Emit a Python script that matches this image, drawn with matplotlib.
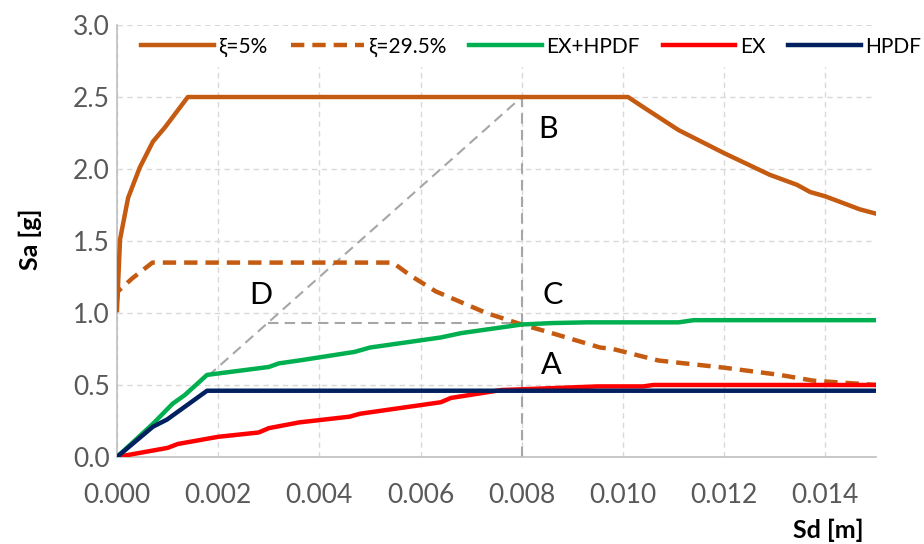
import matplotlib.pyplot as plt

plt.rcParams['font.family'] = ['Lato', 'DejaVu Sans']

# xi = 5% spectrum
sd_5 = [0.0, 0.00006, 0.00022, 0.00045, 0.00071, 0.00095, 0.0014, 0.0101,
        0.0104, 0.0111, 0.0120, 0.0129, 0.01344, 0.0137, 0.0140, 0.01468, 0.0150]
sa_5 = [1.02, 1.51, 1.80, 2.01, 2.19, 2.29, 2.50, 2.50,
        2.43, 2.27, 2.11, 1.96, 1.89, 1.84, 1.81, 1.72, 1.69]

# xi = 29.5% spectrum
sd_29 = [0.0, 0.00002, 0.0003, 0.0007, 0.00545, 0.0058, 0.0063, 0.0067, 0.0073,
         0.0080, 0.0085, 0.00955, 0.0098, 0.0107, 0.0120, 0.0131, 0.01376, 0.0146, 0.0150]
sa_29 = [1.09, 1.15, 1.24, 1.35, 1.35, 1.26, 1.15, 1.09, 1.00,
         0.92, 0.87, 0.76, 0.75, 0.67, 0.62, 0.57, 0.53, 0.51, 0.50]

# capacity curves
sd_exh = [0.0, 0.00071, 0.0011, 0.00134, 0.00178, 0.0030, 0.0032, 0.0036, 0.0047,
          0.0050, 0.0064, 0.0068, 0.0078, 0.0080, 0.0086, 0.0093, 0.0111, 0.0114, 0.0150]
sa_exh = [0.0, 0.23, 0.37, 0.43, 0.57, 0.625, 0.65, 0.67, 0.73,
          0.76, 0.83, 0.86, 0.91, 0.92, 0.93, 0.935, 0.935, 0.95, 0.95]

sd_ex = [0.0, 0.0010, 0.0012, 0.0020, 0.0028, 0.0030, 0.0036, 0.0046, 0.0048,
         0.0064, 0.0066, 0.0076, 0.0080, 0.0095, 0.0104, 0.0106, 0.0150]
sa_ex = [0.0, 0.063, 0.09, 0.14, 0.17, 0.20, 0.24, 0.28, 0.30,
         0.38, 0.41, 0.465, 0.47, 0.49, 0.49, 0.50, 0.50]

sd_hp = [0.0, 0.00071, 0.00099, 0.00178, 0.0150]
sa_hp = [0.0, 0.21, 0.26, 0.46, 0.46]

# construction lines
diag_x = [0.0018, 0.0080]
diag_y = [0.5625, 2.50]
hor_x = [0.00298, 0.0080]
hor_y = [0.93, 0.93]
ver_x = [0.0080, 0.0080]
ver_y = [0.0, 2.50]

point_labels = ['B', 'C', 'A', 'D']
point_x = [0.00832, 0.00840, 0.00838, 0.00262]
point_y = [2.28, 1.125, 0.64, 1.125]

x_ticks = [0.000, 0.002, 0.004, 0.006, 0.008, 0.010, 0.012, 0.014]
y_ticks = [0.0, 0.5, 1.0, 1.5, 2.0, 2.5, 3.0]

orange = '#C55A11'
fig = plt.figure(figsize=(9.24, 5.44), dpi=100)
ax = fig.add_axes([0.1266, 0.160, 0.8214, 0.794])

gray = '#A6A6A6'
ax.plot(diag_x, diag_y, color=gray, lw=1.5, ls=(0, (5, 3)), zorder=2)
ax.plot(hor_x, hor_y, color=gray, lw=1.5, ls=(0, (5, 3)), zorder=2)
ax.plot(ver_x, ver_y, color=gray, lw=1.5, ls=(0, (5, 3)), zorder=2)

ax.plot(sd_5, sa_5, color=orange, lw=3.2, label='ξ=5%', zorder=3)
ax.plot(sd_29, sa_29, color=orange, lw=3.2, ls=(0, (3.0, 1.8)), label='ξ=29.5%', zorder=3)
ax.plot(sd_exh, sa_exh, color='#00B050', lw=3.2, label='EX+HPDF', zorder=3)
ax.plot(sd_ex, sa_ex, color='#FF0000', lw=3.2, label='EX', zorder=3)
ax.plot(sd_hp, sa_hp, color='#002060', lw=3.2, label='HPDF', zorder=3)

for t, x, y in zip(point_labels, point_x, point_y):
    ax.text(x, y, t, fontsize=22, ha='left', va='center', color='black', zorder=4)

ax.set_xlim(0, 0.015)
ax.set_ylim(0, 3.0)
ax.set_xticks(x_ticks)
ax.set_yticks(y_ticks)
ax.set_xticklabels(['%.3f' % v for v in x_ticks])
ax.set_yticklabels(['%.1f' % v for v in y_ticks])
ax.tick_params(length=0, labelsize=19, labelcolor='#595959')
ax.tick_params(axis='x', pad=19)
ax.tick_params(axis='y', pad=5)

ax.grid(True, color='#D9D9D9', ls=(0, (4, 3)), lw=1)
ax.set_axisbelow(True)
for s in ['top', 'right']:
    ax.spines[s].set_visible(False)
for s in ['left', 'bottom']:
    ax.spines[s].set_color('#BFBFBF')
    ax.spines[s].set_linewidth(1.2)

fig.text(0.033, 0.56, 'Sa [g]', rotation=90, fontsize=18, fontweight='bold',
         ha='center', va='center')
fig.text(0.896, 0.025, 'Sd [m]', fontsize=18, fontweight='bold', ha='center', va='center')

leg = fig.legend(loc='center', bbox_to_anchor=(0.575, 0.914), ncol=5, fontsize=15,
                 handlelength=3.5, handletextpad=0.2, columnspacing=1.1,
                 frameon=True, facecolor='white', edgecolor='none', framealpha=1,
                 borderpad=0.5)

fig.savefig('out.png', dpi=100)
